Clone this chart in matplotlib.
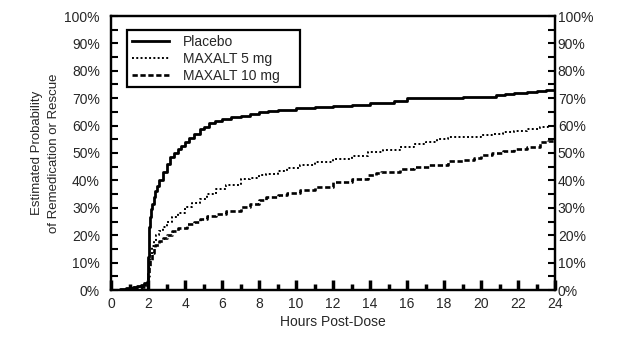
import matplotlib
matplotlib.use("Agg")
import matplotlib.pyplot as plt
from matplotlib.patches import Rectangle
from matplotlib.ticker import MultipleLocator, FuncFormatter

plt.rcParams['font.family'] = ['Liberation Sans', 'DejaVu Sans']

# Kaplan-Meier style cumulative estimates (hours, percent)
placebo_t = [0.0, 0.5, 0.8, 1.0, 1.2, 1.4, 1.6, 1.8, 1.95, 2.0, 2.03, 2.06, 2.1, 2.15, 2.2, 2.3,
             2.4, 2.5, 2.6, 2.8, 3.0, 3.2, 3.4, 3.6, 3.8, 4.0, 4.2, 4.5, 4.8, 5.0, 5.3,
             5.6, 6.0, 6.5, 7.0, 7.5, 8.0, 8.5, 9.0, 10.0, 11.0, 12.0, 13.0, 14.0,
             14.8, 15.3, 16.0, 17.0, 18.0, 19.0, 20.0, 20.8, 21.3, 21.8, 22.5, 23.0, 23.5, 24.0]
placebo_p = [0.0, 0.3, 0.6, 0.9, 1.2, 1.6, 2.0, 2.4, 2.8, 12.0, 18.0, 23.0, 26.5, 29.5, 31.5, 34.0,
             36.0, 38.0, 40.0, 43.0, 46.0, 48.5, 50.0, 51.5, 52.5, 54.0, 55.5, 57.0, 58.8, 59.5, 60.8,
             61.8, 62.5, 63.0, 63.6, 64.2, 64.8, 65.3, 65.7, 66.3, 66.8, 67.3, 67.7, 68.1,
             68.3, 69.0, 70.0, 70.1, 70.2, 70.4, 70.6, 71.0, 71.6, 72.0, 72.2, 72.5, 73.0, 73.2]

mg5_t = [0.0, 0.8, 1.0, 1.3, 1.6, 1.9, 2.0, 2.05, 2.1, 2.2, 2.3, 2.45, 2.6, 2.8, 3.0, 3.3,
         3.6, 4.0, 4.4, 4.8, 5.2, 5.7, 6.2, 7.0, 7.5, 8.0, 8.4, 9.0, 9.5, 10.2, 11.0,
         12.0, 13.0, 13.9, 14.7, 15.6, 16.4, 17.0, 17.6, 18.2, 19.0, 20.0, 20.6, 21.2, 21.8,
         22.5, 23.2, 23.6, 24.0]
mg5_p = [0.0, 0.3, 0.6, 1.0, 1.4, 1.8, 6.0, 10.0, 13.0, 16.0, 18.0, 20.0, 21.5, 23.0, 24.8, 26.5,
         28.0, 30.3, 31.8, 33.3, 35.0, 37.0, 38.5, 40.4, 41.0, 41.8, 42.4, 43.5, 44.5, 45.5, 46.7,
         47.9, 49.0, 50.3, 51.0, 52.1, 53.3, 54.0, 55.0, 55.8, 56.0, 56.4, 57.0, 57.8, 58.2,
         58.7, 59.4, 59.7, 60.0]

mg10_t = [0.0, 0.8, 1.0, 1.3, 1.6, 1.9, 2.0, 2.05, 2.1, 2.2, 2.3, 2.4, 2.6, 2.8, 3.0, 3.3,
          3.6, 4.1, 4.5, 4.8, 5.2, 5.7, 6.2, 7.0, 7.5, 8.0, 8.4, 9.0, 9.5, 10.2, 11.0,
          12.0, 13.0, 13.9, 14.3, 14.6, 15.0, 15.6, 16.4, 17.2, 18.2, 19.0, 19.6, 20.0, 20.6,
          21.2, 21.8, 22.5, 23.2, 23.6, 24.0]
mg10_p = [0.0, 0.3, 0.6, 0.9, 1.2, 1.5, 5.0, 8.5, 11.0, 13.5, 15.5, 16.5, 18.0, 19.0, 20.0, 21.5,
          22.5, 24.2, 25.0, 26.0, 27.0, 27.9, 28.8, 30.3, 31.5, 32.8, 33.9, 34.8, 35.5, 36.4, 37.6,
          39.4, 40.5, 41.8, 42.8, 43.0, 43.2, 44.2, 44.8, 45.7, 46.9, 47.6, 48.3, 49.1, 50.0,
          50.8, 51.5, 52.2, 53.9, 54.5, 55.2]

series_labels = ["Placebo", "MAXALT 5 mg", "MAXALT 10 mg"]
x_ticks = list(range(0, 25, 2))
y_ticks = list(range(0, 101, 10))

text_color = '#262626'
pct = FuncFormatter(lambda v, _: f"{int(v)}%")

fig = plt.figure(figsize=(6.43, 3.41), dpi=100)
ax = fig.add_axes([111 / 643, 1 - 290 / 341, 444 / 643, 274 / 341])

ax.plot(placebo_t, placebo_p, drawstyle='steps-post', color='black', lw=2.0,
        label=series_labels[0])
ax.plot(mg5_t, mg5_p, drawstyle='steps-post', color='black', lw=1.4,
        linestyle=(0, (1, 1.2)), label=series_labels[1])
ax.plot(mg10_t, mg10_p, drawstyle='steps-post', color='black', lw=1.9,
        linestyle=(0, (2, 1)), label=series_labels[2])

ax.set_xlim(0, 24)
ax.set_ylim(0, 100)
ax.set_xticks(x_ticks)
ax.xaxis.set_minor_locator(MultipleLocator(1))
ax.set_yticks(y_ticks)
ax.yaxis.set_minor_locator(MultipleLocator(5))
ax.yaxis.set_major_formatter(pct)

ax.tick_params(axis='x', which='major', direction='in', length=7, width=2.5,
               labelsize=10, pad=5, labelcolor=text_color, top=False)
ax.tick_params(axis='x', which='minor', direction='in', length=4.5, width=2.5, top=False)
ax.tick_params(axis='y', which='both', direction='in', length=5, width=1.5,
               left=True, right=False, labelsize=10, pad=8, labelcolor=text_color)

# right-hand percentage scale
ax_r = ax.twinx()
ax_r.set_ylim(0, 100)
ax_r.set_yticks(y_ticks)
ax_r.yaxis.set_minor_locator(MultipleLocator(5))
ax_r.yaxis.set_major_formatter(pct)
ax_r.tick_params(axis='y', which='both', direction='in', length=5, width=1.5,
                 labelsize=10, pad=2, labelcolor=text_color)

for a in (ax, ax_r):
    for spine in a.spines.values():
        spine.set_linewidth(1.6)

ax.set_xlabel("Hours Post-Dose", fontsize=10, color=text_color, labelpad=3)
ax.set_ylabel("Estimated Probability\nof Remedication or Rescue", fontsize=9.5,
              color=text_color, labelpad=3, linespacing=1.6)

# legend box
ax.add_patch(Rectangle((0.036, 0.741), 0.39, 0.208, transform=ax.transAxes,
                       fill=True, facecolor='white', edgecolor='black', lw=1.6, zorder=4))
leg = ax.legend(loc='upper left', bbox_to_anchor=(0.036, 0.949), frameon=False,
                fontsize=10, handlelength=2.7, handletextpad=0.95, borderpad=0.35,
                labelspacing=0.22, borderaxespad=0)
leg.set_zorder(5)
for t in leg.get_texts():
    t.set_color(text_color)

fig.savefig("out.png", dpi=100)
